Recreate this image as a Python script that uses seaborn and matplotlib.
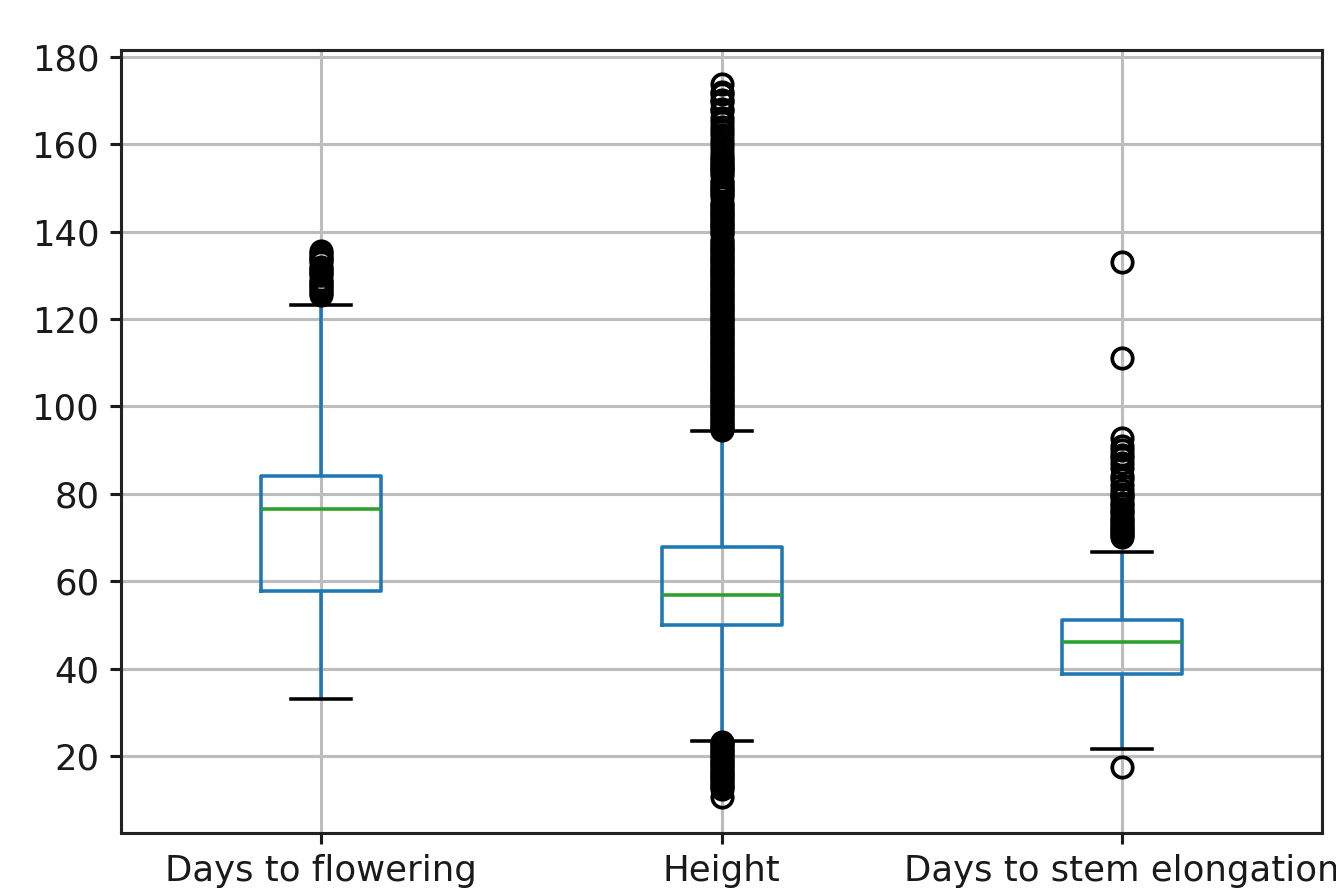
import numpy as np
import pandas as pd
import matplotlib
matplotlib.use('Agg')
import matplotlib.pyplot as plt
import seaborn as sns

# categories and box summary values
traits = ['Days to flowering', 'Height', 'Days to stem elongation']
low_whisker = [33.1, 23.6, 21.6]
q1 = [57.9, 50.1, 38.8]
median = [76.6, 57.0, 46.2]
q3 = [84.0, 67.8, 51.1]
high_whisker = [123.1, 94.3, 66.7]

# outliers (fliers) for each trait
flowering_out = [125.5, 126, 126.5, 127, 127.5, 128, 128.5, 129, 130, 130.5,
                 131, 131.5, 132, 133, 133.5, 134, 134.5, 135, 135.5]
height_out = [10.7, 12.5, 13, 13.5, 14, 14.5, 15, 15.5, 16, 16.5, 17, 17.5,
              18, 18.5, 19, 19.5, 20, 20.5, 21, 21.5, 22, 22.5, 23, 23.4,
              94.6, 95, 95.5, 96, 96.5, 97, 97.5, 98, 98.5, 99, 99.5, 100,
              100.5, 101, 101.5, 102, 102.5, 103, 103.5, 104, 104.5, 105,
              105.5, 106, 106.5, 107, 107.5, 108, 108.5, 109, 109.5, 110,
              110.5, 111, 111.5, 112, 112.5, 113, 113.5, 114, 114.5, 115,
              115.5, 116, 116.5, 117, 117.5, 118, 118.5, 119, 119.5, 120,
              120.5, 121, 121.5, 122, 122.5, 123, 123.5, 124, 124.5, 125,
              125.5, 126, 126.5, 127, 127.5, 128, 128.5, 129, 129.5, 130,
              130.5, 131, 131.5, 132, 132.5, 133, 133.5, 134, 134.5, 135,
              135.5, 136, 136.5, 137, 137.5, 138, 139.5, 140, 140.5, 141,
              141.5, 142, 142.5, 143, 143.5, 144, 144.5, 145, 145.5, 146,
              146.5, 148, 148.5, 149, 149.5, 150, 150.5, 151, 151.5, 153,
              153.5, 154, 154.5, 155, 155.5, 156, 156.5, 157, 158, 159,
              160, 161, 162, 163, 164, 165, 166, 167.5, 168, 169.5, 170,
              171.5, 172, 173.8]
stem_out = [17.6, 70.2, 70.6, 71, 71.5, 72, 72.5, 73, 73.5, 74, 74.5, 75.5,
            76, 76.5, 77.5, 78, 79, 79.5, 80, 81, 82, 83.5, 84, 86, 87,
            88.3, 89, 90, 91, 92.7, 111.0, 133.1]
outliers = [flowering_out, height_out, stem_out]

# long table for seaborn: quartile values repeated so the library's
# own percentile computation lands on the values read above
rows = []
k = 200
for i, t in enumerate(traits):
    vals = ([low_whisker[i]] + [q1[i]] * k + [median[i]] * k + [q3[i]] * k
            + [high_whisker[i]] + outliers[i])
    for v in vals:
        rows.append((t, v))
df = pd.DataFrame(rows, columns=['trait', 'value'])

dpi = 222.7
fig = plt.figure(figsize=(1336 / dpi, 894 / dpi), dpi=dpi)
ax = fig.add_axes([121 / 1336, 1 - 832.5 / 894, (1322.3 - 121) / 1336, (832.5 - 50) / 894])

lw = 1.15
sns.boxplot(data=df, x='trait', y='value', order=traits, ax=ax,
            width=0.3, fill=False, color='#1f77b4', linewidth=lw, whis=1.5,
            boxprops=dict(color='#1f77b4', linewidth=lw),
            whiskerprops=dict(color='#1f77b4', linewidth=lw),
            medianprops=dict(color='#2ca02c', linewidth=lw),
            capprops=dict(color='black', linewidth=lw),
            flierprops=dict(marker='o', markerfacecolor='none',
                            markeredgecolor='black', markersize=6.6,
                            markeredgewidth=1.2))

ax.set_xlim(-0.5, 2.5)
ax.set_ylim(2.6, 181.5)
ax.set_yticks([20, 40, 60, 80, 100, 120, 140, 160, 180])
ax.set_xlabel('')
ax.set_ylabel('')
ax.grid(True, color='#bdbdbd', linewidth=1.0)
ax.tick_params(labelsize=11.5, length=3.5, width=1.0, colors='#1a1a1a')
for s in ax.spines.values():
    s.set_linewidth(1.0)
    s.set_color('#222222')

fig.savefig('out.png', dpi=dpi)
